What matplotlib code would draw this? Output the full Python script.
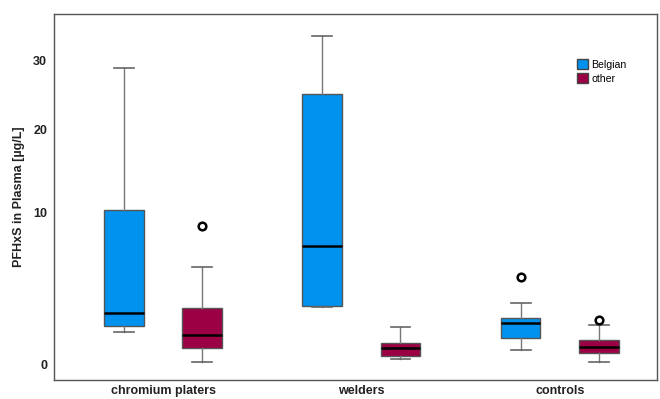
import numpy as np
import matplotlib
matplotlib.use("Agg")
import matplotlib.pyplot as plt
from matplotlib.patches import Patch

plt.rcParams["font.family"] = ["Liberation Sans", "DejaVu Sans"]

# Values (µg/L)
groups = ["chromium platers", "welders", "controls"]
origins = ["Belgian", "other"]

belgian_whislo = [0.86, 2.13, 0.24]
belgian_q1 = [1.15, 2.23, 0.62]
belgian_med = [1.82, 6.78, 1.30]
belgian_q3 = [10.28, 25.0, 1.55]
belgian_whishi = [28.8, 34.0, 2.37]
belgian_fliers = [[], [], [4.20]]

other_whislo = [0.02, 0.06, 0.013]
other_q1 = [0.31, 0.11, 0.18]
other_med = [0.76, 0.29, 0.33]
other_q3 = [2.11, 0.46, 0.57]
other_whishi = [4.98, 1.11, 1.20]
other_fliers = [[8.61], [], [1.45]]

y_ticks = [0, 10, 20, 30]

BLUE = "#0092EE"
RED = "#9C0044"
POWER = 0.63


def forward(v):
    v = np.asarray(v, dtype=float)
    return np.sign(v) * np.abs(v) ** POWER


def inverse(v):
    v = np.asarray(v, dtype=float)
    return np.sign(v) * np.abs(v) ** (1 / POWER)


def make_stats(whislo, q1, med, q3, whishi, fliers):
    return [
        {"whislo": a, "q1": b, "med": c, "q3": d, "whishi": e, "fliers": f}
        for a, b, c, d, e, f in zip(whislo, q1, med, q3, whishi, fliers)
    ]


fig = plt.figure(figsize=(6.6, 3.99), dpi=100)
ax = fig.add_axes([0.082, 0.048, 0.913, 0.917])
ax.set_yscale("function", functions=(forward, inverse))

centers = np.arange(1, len(groups) + 1)
offset = 0.197
width = 0.2

series = [
    (make_stats(belgian_whislo, belgian_q1, belgian_med, belgian_q3, belgian_whishi, belgian_fliers),
     centers - offset, BLUE),
    (make_stats(other_whislo, other_q1, other_med, other_q3, other_whishi, other_fliers),
     centers + offset, RED),
]

for stats, positions, color in series:
    ax.bxp(
        stats, positions=positions, widths=width, patch_artist=True,
        capwidths=width * 0.5,
        boxprops=dict(facecolor=color, edgecolor="#555555", linewidth=1.0),
        medianprops=dict(color="black", linewidth=1.8),
        whiskerprops=dict(color="#777777", linewidth=1.0),
        capprops=dict(color="#666666", linewidth=1.2),
        flierprops=dict(marker="o", markerfacecolor="white", markeredgecolor="black",
                        markeredgewidth=1.8, markersize=5.5),
    )

ax.set_xlim(0.451, 3.489)
ax.set_ylim(-0.254, 37.6)
ax.set_xticks(centers)
ax.set_xticklabels(groups, fontsize=9, fontweight="bold", color="#222222")
ax.set_yticks(y_ticks)
ax.set_yticklabels([str(t) for t in y_ticks], fontsize=9, fontweight="bold", color="#222222")
ax.tick_params(axis="both", length=0)
ax.tick_params(axis="y", pad=5)
ax.tick_params(axis="x", pad=4)
ax.set_ylabel("PFHxS in Plasma [µg/L]", fontsize=9, fontweight="bold", color="#222222",
              labelpad=6)

for spine in ax.spines.values():
    spine.set_color("#555555")
    spine.set_linewidth(1.0)

handles = [Patch(facecolor=BLUE, edgecolor="#444444"), Patch(facecolor=RED, edgecolor="#444444")]
ax.legend(handles, origins, loc="upper left", bbox_to_anchor=(0.856, 0.896), frameon=False,
          fontsize=7.6, handlelength=1.0, handleheight=1.05, handletextpad=0.3,
          labelspacing=0.3, borderpad=0.2)

fig.savefig("out.png", dpi=100)
